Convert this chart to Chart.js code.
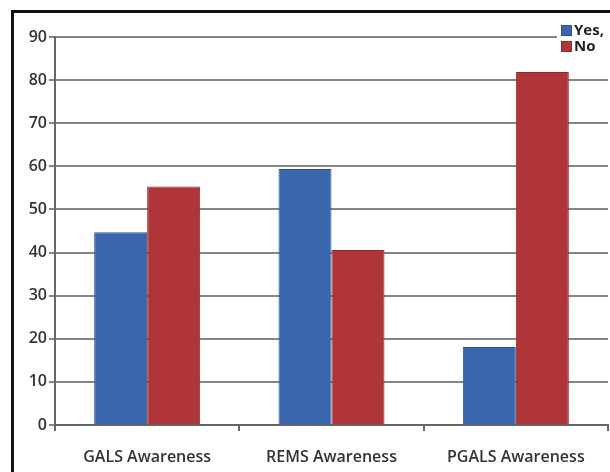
<!DOCTYPE html>
<html>
<head>
<meta charset="utf-8">
<script src="https://cdn.jsdelivr.net/npm/chart.js@4"></script>
<style>
  html, body { margin: 0; padding: 0; background: #fff; }
  #wrap { position: relative; width: 610px; height: 472px; overflow: hidden; }
  #frame { position: absolute; left: 11px; top: 10px; width: 620px; height: 480px;
           border-left: 3px solid #111; border-top: 3px solid #111; }
  #chart { position: absolute; left: 0; top: 0; }
</style>
</head>
<body>
<div id="wrap">
  <div id="frame"></div>
  <canvas id="chart" width="610" height="472"></canvas>
</div>
<script>
// Dados do gráfico
const categories = ['GALS Awareness', 'REMS Awareness', 'PGALS Awareness'];
const yesValues = [44.7, 59.4, 18.1];
const noValues = [55.3, 40.6, 81.9];
const yTicks = [0, 10, 20, 30, 40, 50, 60, 70, 80, 90];

const labelFont = { family: "'Open Sans', sans-serif", size: 16, weight: '600' };

// legenda desenhada no canto superior direito
const cornerLegend = {
    id: 'cornerLegend',
    afterDraw(chart) {
        const ctx = chart.ctx;
        const x = 559, y0 = 25, gap = 16;
        ctx.save();
        ctx.fillStyle = '#fff';
        ctx.fillRect(x - 2, y0 - 4, 70, 34);
        chart.data.datasets.forEach((ds, i) => {
            const y = y0 + i * gap;
            ctx.fillStyle = ds.backgroundColor;
            ctx.fillRect(x + 2, y, 11, 11);
            ctx.strokeStyle = ds.borderColor;
            ctx.lineWidth = 1;
            ctx.strokeRect(x + 2.5, y + 0.5, 10, 10);
            ctx.fillStyle = '#222';
            ctx.font = "700 15px 'Open Sans', sans-serif";
            ctx.textBaseline = 'middle';
            ctx.fillText(ds.label, x + 15, y + 6);
        });
        ctx.restore();
    }
};

const ctx = document.getElementById('chart').getContext('2d');
const chart = new Chart(ctx, {
    type: 'bar',
    data: {
        labels: categories,
        datasets: [{
            label: 'Yes,',
            data: yesValues,
            backgroundColor: '#3a66ae',
            borderColor: '#2d5390',
            borderWidth: 1
        }, {
            label: 'No',
            data: noValues,
            backgroundColor: '#b03538',
            borderColor: '#8f2a2c',
            borderWidth: 1
        }]
    },
    options: {
        responsive: false,
        animation: false,
        categoryPercentage: 0.575,
        barPercentage: 1.0,
        layout: { padding: { left: 0, top: 37, right: 2, bottom: 0 } },
        scales: {
            x: {
                grid: {
                    offset: true,
                    drawOnChartArea: false,
                    drawTicks: true,
                    tickLength: 6,
                    color: '#666',
                    lineWidth: 2
                },
                border: { color: '#666', width: 2 },
                ticks: { color: '#333', font: labelFont, padding: 17, maxRotation: 0 },
                afterFit: (s) => { s.height = 47; }
            },
            y: {
                min: 0,
                max: 90,
                afterBuildTicks: (s) => { s.ticks = yTicks.map(v => ({ value: v })); },
                grid: { color: '#858585', lineWidth: 2, tickLength: 6 },
                border: { color: '#666', width: 2 },
                ticks: { color: '#333', font: labelFont, padding: 2 },
                afterFit: (s) => { s.width = 55; }
            }
        },
        plugins: {
            legend: { display: false },
            tooltip: { enabled: false }
        }
    },
    plugins: [cornerLegend]
});
</script>
</body>
</html>
